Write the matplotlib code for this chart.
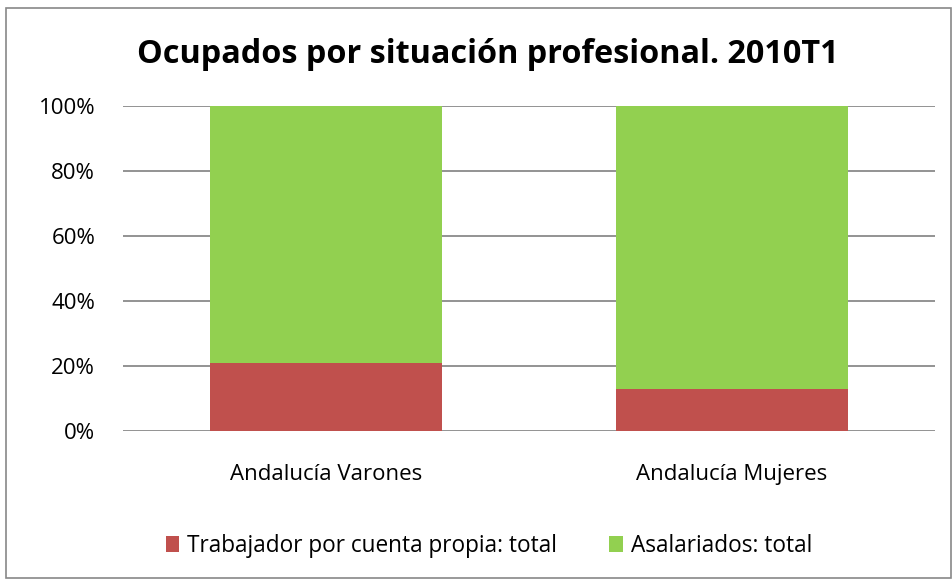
import matplotlib.pyplot as plt
from matplotlib.patches import Rectangle
from matplotlib.ticker import PercentFormatter

plt.rcParams['font.family'] = ['Open Sans', 'DejaVu Sans']

# Data (percent of employed)
categories = ['Andalucía Varones', 'Andalucía Mujeres']
cuenta_propia = [20.9, 13.0]
asalariados = [79.1, 87.0]
series_labels = ['Trabajador por cuenta propia: total', 'Asalariados: total']
colors = ['#C0504D', '#92D050']

fig = plt.figure(figsize=(9.53, 5.79), dpi=100)
fig.patches.append(Rectangle((0.006, 0.002), 0.992, 0.985, transform=fig.transFigure,
                             fill=False, edgecolor='#888888', lw=1.2))
ax = fig.add_axes([0.129, 0.2556, 0.852, 0.5614])

x = range(len(categories))
ax.bar(x, cuenta_propia, width=0.57, color=colors[0], label=series_labels[0], zorder=3)
ax.bar(x, asalariados, width=0.57, bottom=cuenta_propia, color=colors[1],
       label=series_labels[1], zorder=3)

ax.set_xlim(-0.5, 1.5)
ax.set_ylim(0, 100)
ax.set_yticks(range(0, 101, 20))
ax.yaxis.set_major_formatter(PercentFormatter(decimals=0))
ax.set_xticks(list(x))
ax.set_xticklabels(categories)
ax.tick_params(axis='both', length=0, labelsize=16)
ax.tick_params(axis='x', pad=24)
ax.tick_params(axis='y', pad=20)
ax.grid(axis='y', color='#939393', lw=1.4, zorder=1)
for s in ax.spines.values():
    s.set_visible(False)

fig.suptitle('Ocupados por situación profesional. 2010T1', x=0.512, y=0.935,
             fontsize=23.3, fontweight='bold')

fig.legend(loc='center', bbox_to_anchor=(0.513, 0.057), ncol=2, frameon=False,
           fontsize=16.3, handlelength=0.6, handleheight=0.75, handletextpad=0.35,
           columnspacing=2.3)

fig.savefig('out.png', dpi=100, facecolor='white')
